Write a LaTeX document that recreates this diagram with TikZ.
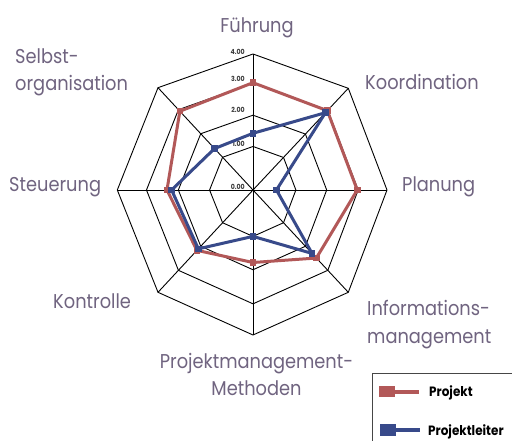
\documentclass[tikz,border=0pt]{standalone}
\usepackage{fontspec}
\setmainfont{Poppins}[FakeStretch=0.89]
\usetikzlibrary{calc}
\definecolor{labelc}{RGB}{112,100,128}
\definecolor{redc}{RGB}{178,88,88}
\definecolor{bluec}{RGB}{56,74,138}
\definecolor{tickc}{RGB}{60,60,60}
\definecolor{legc}{RGB}{70,70,70}
\begin{document}
\begin{tikzpicture}[x=1pt,y=-1pt,
  lab/.style={text=labelc,font=\fontsize{20}{24}\selectfont,inner sep=0pt,anchor=base west},
  labc/.style={text=labelc,font=\fontsize{20}{24}\selectfont,inner sep=0pt,anchor=base},
  ticklab/.style={text=tickc,font=\bfseries\fontsize{7}{8}\selectfont,inner sep=0pt,anchor=base east},
  legtext/.style={text=black,font=\bfseries\fontsize{13.5}{15}\selectfont,inner sep=0pt,anchor=base west},
  gridline/.style={black,line width=0.9pt,line join=miter},
  series/.style={line width=3pt,line join=round},
  mk/.style={inner sep=0pt,minimum size=6.5pt,fill=#1,draw=none,rectangle}
]
\useasboundingbox (0,0) rectangle (512,441);
\clip (0,0) rectangle (512,441);
\fill[white] (0,0) rectangle (512,441);
\coordinate (C) at (253,190);
\coordinate (V1) at (253,54);
\coordinate (V2) at (348.3,88.3);
\coordinate (V3) at (387,190);
\coordinate (V4) at (348.3,292.3);
\coordinate (V5) at (253,335);
\coordinate (V6) at (158,292.3);
\coordinate (V7) at (117.3,190);
\coordinate (V8) at (158,87.7);
% grid rings
\foreach \f in {0.32,0.55,0.785,1}{
  \draw[gridline] ($(C)!\f!(V1)$) -- ($(C)!\f!(V2)$) -- ($(C)!\f!(V3)$) -- ($(C)!\f!(V4)$)
     -- ($(C)!\f!(V5)$) -- ($(C)!\f!(V6)$) -- ($(C)!\f!(V7)$) -- ($(C)!\f!(V8)$) -- cycle;
}
\foreach \i in {1,...,8} \draw[gridline] (C) -- (V\i);
% tick labels
\node[ticklab] (t4) at (245,55) {4.00};
\node[ticklab] (t3) at (245,82) {3.00};
\node[ticklab] (t2) at (245,113) {2.00};
\node[ticklab] (t1) at (245,147) {1.00};
\node[ticklab] (t0) at (245,189.5) {0.00};
% data
\foreach \i/\f in {1/0.789,2/0.78,3/0.778,4/0.665,5/0.50,6/0.59,7/0.634,8/0.77}
  \coordinate (R\i) at ($(C)!\f!(V\i)$);
\foreach \i/\f in {1/0.417,2/0.76,3/0.175,4/0.62,5/0.32,6/0.575,7/0.60,8/0.405}
  \coordinate (B\i) at ($(C)!\f!(V\i)$);
\draw[series,redc] (R1) -- (R2) -- (R3) -- (R4) -- (R5) -- (R6) -- (R7) -- (R8) -- cycle;
\foreach \i in {1,...,8} \node[mk=redc] (rm\i) at (R\i) {};
\draw[series,bluec] (B1) -- (B2) -- (B3) -- (B4) -- (B5) -- (B6) -- (B7) -- (B8) -- cycle;
\foreach \i in {1,...,8} \node[mk=bluec] (bm\i) at (B\i) {};
% axis labels
\node[labc] (fuehrung) at (257,32.3) {Führung};
\node[lab] (selbst1) at (15,64) {Selbst-};
\node[lab] (selbst2) at (15,90.7) {organisation};
\node[lab] (koord) at (365,90) {Koordination};
\node[lab] (planung) at (402,191.7) {Planung};
\node[lab] (steuer) at (9,191.7) {Steuerung};
\node[lab] (kontrolle) at (53,308.3) {Kontrolle};
\node[lab] (info1) at (367,315) {Informations-};
\node[lab] (info2) at (367,343.3) {management};
\node[labc] (pm1) at (256.5,368.3) {Projektmanagement-};
\node[labc] (pm2) at (256.5,395) {Methoden};
% legend
\draw[legc,line width=1pt] (372.7,373.3) rectangle (530,460);
\coordinate (l1a) at (379,391.5);
\coordinate (l1b) at (419.3,391.5);
\coordinate (l2a) at (380,429.5);
\coordinate (l2b) at (420,429.5);
\draw[redc,line width=4pt] (l1a) -- (l1b);
\fill[redc] (378.5,386) rectangle (395,397.3);
\draw[bluec,line width=4pt] (l2a) -- (l2b);
\fill[bluec] (380,423.5) rectangle (396,436);
\node[legtext] (lp) at (429,396) {Projekt};
\node[legtext] (lpl) at (428,435) {Projektleiter};
\end{tikzpicture}
\end{document}
